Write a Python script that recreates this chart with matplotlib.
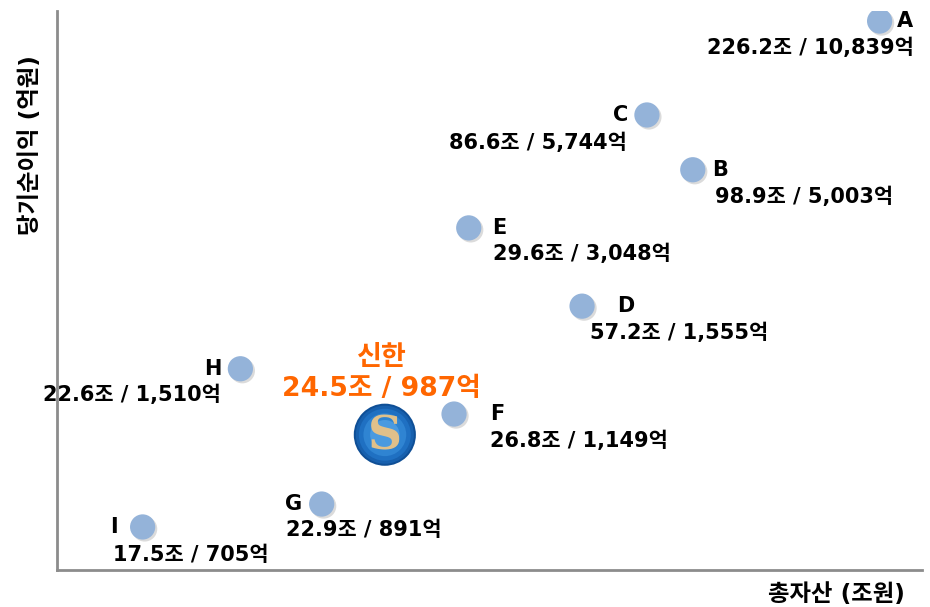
import matplotlib
matplotlib.use("Agg")
import matplotlib.pyplot as plt
import matplotlib.transforms as mtrans

FAM = ['DejaVu Sans', 'Noto Sans CJK KR']
plt.rcParams['font.family'] = FAM

# ---- data ----
banks = ['A', 'C', 'B', 'E', 'D', 'H', 'F', 'G', 'I']
assets_jo = ['226.2', '86.6', '98.9', '29.6', '57.2', '22.6', '26.8', '22.9', '17.5']
profit_eok = ['10,839', '5,744', '5,003', '3,048', '1,555', '1,510', '1,149', '891', '705']
# schematic plot coordinates (chart is not to scale)
x_pos = [95.1, 68.2, 73.5, 47.6, 60.7, 21.2, 45.9, 30.6, 9.9]
y_pos = [98.2, 81.4, 71.6, 61.2, 47.2, 36.0, 27.9, 11.8, 7.7]

shinhan_name = '신한'
shinhan_assets = '24.5'
shinhan_profit = '987'
shinhan_x = 37.9
shinhan_y = 24.2

# ---- layout of labels (pixels) ----
letter_off = {'A': (17, 0, 'left'), 'C': (-19, 0, 'right'), 'B': (19, 0, 'left'),
              'E': (23, 0, 'left'), 'D': (35, 0, 'left'), 'H': (-19, 0, 'right'),
              'F': (36, 0, 'left'), 'G': (-20, 0, 'right'), 'I': (-25, 0, 'right')}
value_off = {'A': (34, -27, 'right'), 'C': (-20, -28, 'right'), 'B': (22, -27, 'left'),
             'E': (24, -26, 'left'), 'D': (8, -27, 'left'), 'H': (-20, -26, 'right'),
             'F': (36, -27, 'left'), 'G': (-36, -26, 'left'), 'I': (-30, -28, 'left')}

fig = plt.figure(figsize=(9.3, 6.07), dpi=100)
ax = fig.add_axes([57/930, 37/607, 865/930, 559/607])
ax.set_xlim(0, 100)
ax.set_ylim(0, 100)
for s in ['top', 'right']:
    ax.spines[s].set_visible(False)
for s in ['left', 'bottom']:
    ax.spines[s].set_color('#8c8c8c')
    ax.spines[s].set_linewidth(2)
ax.set_xticks([])
ax.set_yticks([])

# shadow + markers
shadow = ax.transData + mtrans.ScaledTranslation(2/100, -2/100, fig.dpi_scale_trans)
ax.scatter(x_pos, y_pos, s=330, color='#9a9a9a', alpha=0.35, zorder=2,
           edgecolors='none', transform=shadow)
ax.scatter(x_pos, y_pos, s=330, color='#94B3D9', edgecolors='none', zorder=3)

txt_kw = dict(fontsize=15, fontweight='bold', color='black', va='center',
              textcoords='offset pixels', zorder=4, family=FAM)
for b, a, p, x, y in zip(banks, assets_jo, profit_eok, x_pos, y_pos):
    dx, dy, ha = letter_off[b]
    ax.annotate(b, (x, y), xytext=(dx, dy), ha=ha, **txt_kw)
    dx, dy, ha = value_off[b]
    ax.annotate(f'{a}조 / {p}억', (x, y), xytext=(dx, dy), ha=ha, **txt_kw)

# Shinhan logo (blue sphere with gold S)
for s, c in [(2000, '#0f4f96'), (1750, '#1760ae'), (1400, '#1f70c2'),
             (950, '#2f84d2'), (450, '#4a9ae0')]:
    ax.scatter([shinhan_x], [shinhan_y], s=s, color=c, edgecolors='none', zorder=3)
ax.annotate('S', (shinhan_x, shinhan_y), xytext=(0, -2), textcoords='offset pixels',
            ha='center', va='center', fontsize=34, fontweight='bold',
            family='DejaVu Serif', color='#e0c08a', zorder=4)

orange = '#FF6600'
ax.annotate(shinhan_name, (shinhan_x, shinhan_y), xytext=(-3, 77),
            textcoords='offset pixels', ha='center', va='center',
            fontsize=19.5, fontweight='bold', color=orange, zorder=4, family=FAM)
ax.annotate(f'{shinhan_assets}조 / {shinhan_profit}억', (shinhan_x, shinhan_y),
            xytext=(-3, 46), textcoords='offset pixels', ha='center', va='center',
            fontsize=19.2, fontweight='bold', color=orange, zorder=4, family=FAM)

# axis titles
fig.text(30/930, 1 - 145/607, '당기순이익 (억원)', rotation=90, ha='center',
         va='center', fontsize=16.8, fontweight='bold', family=FAM)
fig.text(905/930, 1 - 595/607, '총자산 (조원)', ha='right', va='center',
         fontsize=16.8, fontweight='bold', family=FAM)

fig.savefig('out.png', dpi=100)
